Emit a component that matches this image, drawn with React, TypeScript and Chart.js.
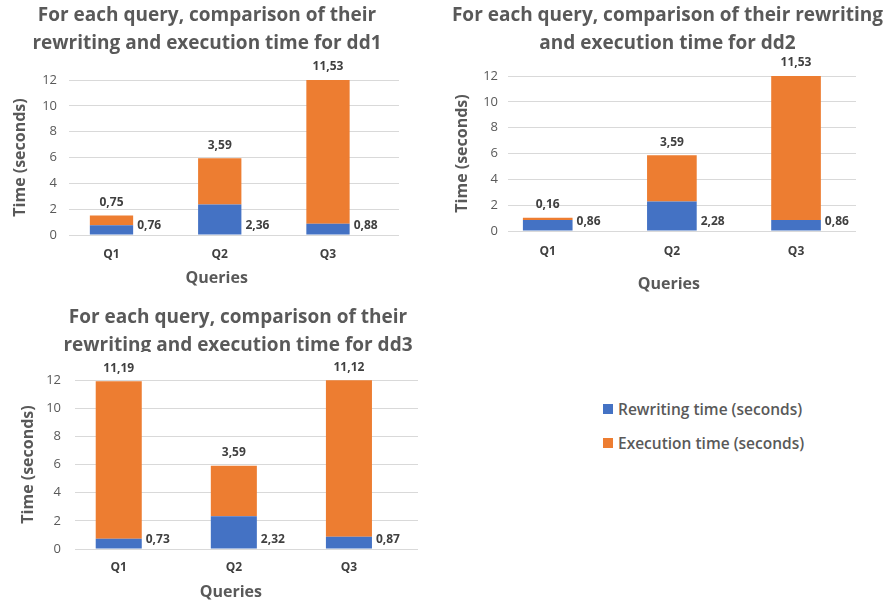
import React, { useEffect, useRef } from "react";
import { Chart, registerables } from "chart.js";

Chart.register(...registerables);

// ---- data ----
const categories = ["Q1", "Q2", "Q3"];
const dd1Rewriting = [0.76, 2.36, 0.88];
const dd1Execution = [0.75, 3.59, 11.53];
const dd2Rewriting = [0.86, 2.28, 0.86];
const dd2Execution = [0.16, 3.59, 11.53];
const dd3Rewriting = [0.73, 2.32, 0.87];
const dd3Execution = [11.19, 3.59, 11.12];
const yTicks = [0, 2, 4, 6, 8, 10, 12];
const seriesNames = ["Rewriting time (seconds)", "Execution time (seconds)"];
const seriesColors = ["#4472C4", "#ED7D31"];
const xAxisTitle = "Queries";
const yAxisTitle = "Time (seconds)";

const FONT = '"Open Sans", "Liberation Sans", sans-serif';
const fmt = (v: number) => v.toFixed(2).replace(".", ",");

type PanelCfg = {
  rewriting: number[];
  execution: number[];
  title: string[];
  titleCenter: number;
  titleTop: number;
  titleClip?: number;
  left: number;
  top: number;
  width: number;
  height: number;
  padTop: number;
  padRight: number;
  yWidth: number;
  yTickPad: number;
  yTitlePad: number;
  xHeight: number;
  xTickPad: number;
  queriesY: number;
  xMin: number;
  xMax: number;
};

const panels: PanelCfg[] = [
  {
    rewriting: dd1Rewriting,
    execution: dd1Execution,
    title: ["For each query, comparison of their", "rewriting and execution time for dd1"],
    titleCenter: 207,
    titleTop: 1,
    left: 0,
    top: 0,
    width: 440,
    height: 300,
    padTop: 80,
    padRight: 41,
    yWidth: 69,
    yTickPad: 12,
    yTitlePad: 10.4,
    xHeight: 65,
    xTickPad: 12.8,
    queriesY: 278,
    xMin: 0.6074,
    xMax: 3.656,
  },
  {
    rewriting: dd2Rewriting,
    execution: dd2Execution,
    title: ["For each query, comparison of their rewriting", "and execution time for dd2"],
    titleCenter: 667.5,
    titleTop: 1,
    left: 440,
    top: 0,
    width: 448,
    height: 300,
    padTop: 76,
    padRight: 32,
    yWidth: 68,
    yTickPad: 10,
    yTitlePad: 12.4,
    xHeight: 69,
    xTickPad: 13,
    queriesY: 284,
    xMin: 0.68,
    xMax: 3.483,
  },
  {
    rewriting: dd3Rewriting,
    execution: dd3Execution,
    title: ["For each query, comparison of their", "rewriting and execution time for dd3"],
    titleCenter: 238,
    titleTop: 303,
    titleClip: 49,
    left: 0,
    top: 300,
    width: 440,
    height: 303,
    padTop: 80,
    padRight: 22,
    yWidth: 75,
    yTickPad: 14,
    yTitlePad: 18.4,
    xHeight: 54,
    xTickPad: 11.5,
    queriesY: 292.7,
    xMin: 0.62,
    xMax: 3.6,
  },
];

function Panel({ cfg }: { cfg: PanelCfg }) {
  const ref = useRef<HTMLCanvasElement>(null);

  useEffect(() => {
    const labelsPlugin = {
      id: "valueLabels",
      afterDatasetsDraw(chart: any) {
        const { ctx, chartArea } = chart;
        const yScale = chart.scales.y;
        const xScale = chart.scales.x;
        const yZero = yScale.getPixelForValue(0);
        const m0 = chart.getDatasetMeta(0);
        const m1 = chart.getDatasetMeta(1);
        ctx.save();
        ctx.font = `bold 12px ${FONT}`;
        ctx.fillStyle = "#404040";
        ctx.textBaseline = "middle";
        m1.data.forEach((bar: any, i: number) => {
          const top = Math.max(bar.y, chartArea.top);
          ctx.textAlign = "center";
          ctx.fillText(fmt(cfg.execution[i]), bar.x, top - 13);
        });
        m0.data.forEach((bar: any, i: number) => {
          ctx.textAlign = "left";
          ctx.fillText(fmt(cfg.rewriting[i]), bar.x + bar.width / 2 + 4, yZero - 9);
        });
        // x axis title centred under the middle category
        ctx.font = `bold 16px ${FONT}`;
        ctx.fillStyle = "#595959";
        ctx.textAlign = "center";
        ctx.fillText(xAxisTitle, xScale.getPixelForValue(2) - 3, cfg.queriesY);
        ctx.restore();
      },
    };

    const chart = new Chart(ref.current as HTMLCanvasElement, {
      type: "bar",
      data: {
        datasets: [
          {
            label: seriesNames[0],
            data: cfg.rewriting.map((v, i) => ({ x: i + 1, y: v })),
            backgroundColor: seriesColors[0],
            borderWidth: 0,
            barPercentage: 0.4,
            categoryPercentage: 1,
            clip: 0,
          } as any,
          {
            label: seriesNames[1],
            data: cfg.execution.map((v, i) => ({ x: i + 1, y: v })),
            backgroundColor: seriesColors[1],
            borderWidth: 0,
            barPercentage: 0.4,
            categoryPercentage: 1,
            clip: 0,
          } as any,
        ],
      },
      options: {
        animation: false,
        responsive: false,
        maintainAspectRatio: false,
        layout: { padding: { top: cfg.padTop, right: cfg.padRight, left: 0, bottom: 0 } },
        plugins: {
          legend: { display: false },
          tooltip: { enabled: false },
          title: { display: false },
        },
        scales: {
          x: {
            type: "linear",
            min: cfg.xMin,
            max: cfg.xMax,
            bounds: "data",
            offset: false,
            stacked: true,
            grid: { display: false, offset: false, drawTicks: false },
            border: { display: false },
            afterBuildTicks: (s: any) => {
              s.ticks = categories.map((_, i) => ({ value: i + 1 }));
            },
            afterFit: (s: any) => {
              s.height = cfg.xHeight;
            },
            ticks: {
              autoSkip: false,
              maxRotation: 0,
              padding: cfg.xTickPad,
              color: "#404040",
              font: { family: FONT, size: 12, weight: "bold" },
              callback: (v: any) => categories[Math.round(Number(v)) - 1] ?? "",
            },
          },
          y: {
            min: 0,
            max: 12,
            stacked: true,
            afterBuildTicks: (s: any) => {
              s.ticks = yTicks.map((v) => ({ value: v }));
            },
            afterFit: (s: any) => {
              s.width = cfg.yWidth;
            },
            grid: { color: "#D9D9D9", drawTicks: false, lineWidth: 1 },
            border: { display: false },
            ticks: {
              padding: cfg.yTickPad,
              color: "#595959",
              font: { family: FONT, size: 13 },
            },
            title: {
              display: true,
              text: yAxisTitle,
              color: "#595959",
              font: { family: FONT, size: 16, weight: "bold" },
              padding: { top: cfg.yTitlePad, bottom: 0 },
            },
          },
        } as any,
      },
      plugins: [labelsPlugin],
    });
    return () => chart.destroy();
  }, [cfg]);

  return (
    <canvas
      ref={ref}
      width={cfg.width}
      height={cfg.height}
      style={{ position: "absolute", left: cfg.left, top: cfg.top, width: cfg.width, height: cfg.height }}
    />
  );
}

function PanelTitle({ cfg }: { cfg: PanelCfg }) {
  return (
    <div
      style={{
        position: "absolute",
        left: cfg.titleCenter - 260,
        top: cfg.titleTop,
        width: 520,
        height: cfg.titleClip,
        overflow: "hidden",
        textAlign: "center",
        fontFamily: FONT,
        fontWeight: 700,
        fontSize: 19,
        lineHeight: "27.5px",
        color: "#595959",
        whiteSpace: "nowrap",
      }}
    >
      {cfg.title.map((t, i) => (
        <div key={i}>{t}</div>
      ))}
    </div>
  );
}

export default function App() {
  return (
    <div
      style={{
        position: "fixed",
        left: 0,
        top: 0,
        width: 888,
        height: 603,
        background: "#ffffff",
        overflow: "hidden",
      }}
    >
      {panels.map((p, i) => (
        <Panel key={i} cfg={p} />
      ))}
      {panels.map((p, i) => (
        <PanelTitle key={"t" + i} cfg={p} />
      ))}
      <div style={{ position: "absolute", left: 603, top: 399, fontFamily: FONT }}>
        {seriesNames.map((name, i) => (
          <div
            key={name}
            style={{
              display: "flex",
              alignItems: "center",
              height: 20,
              marginBottom: 14,
              fontSize: 15.5,
              fontWeight: 600,
              color: "#595959",
            }}
          >
            <span
              style={{
                display: "inline-block",
                width: 10,
                height: 10,
                background: seriesColors[i],
                marginRight: 5,
              }}
            />
            {name}
          </div>
        ))}
      </div>
    </div>
  );
}
